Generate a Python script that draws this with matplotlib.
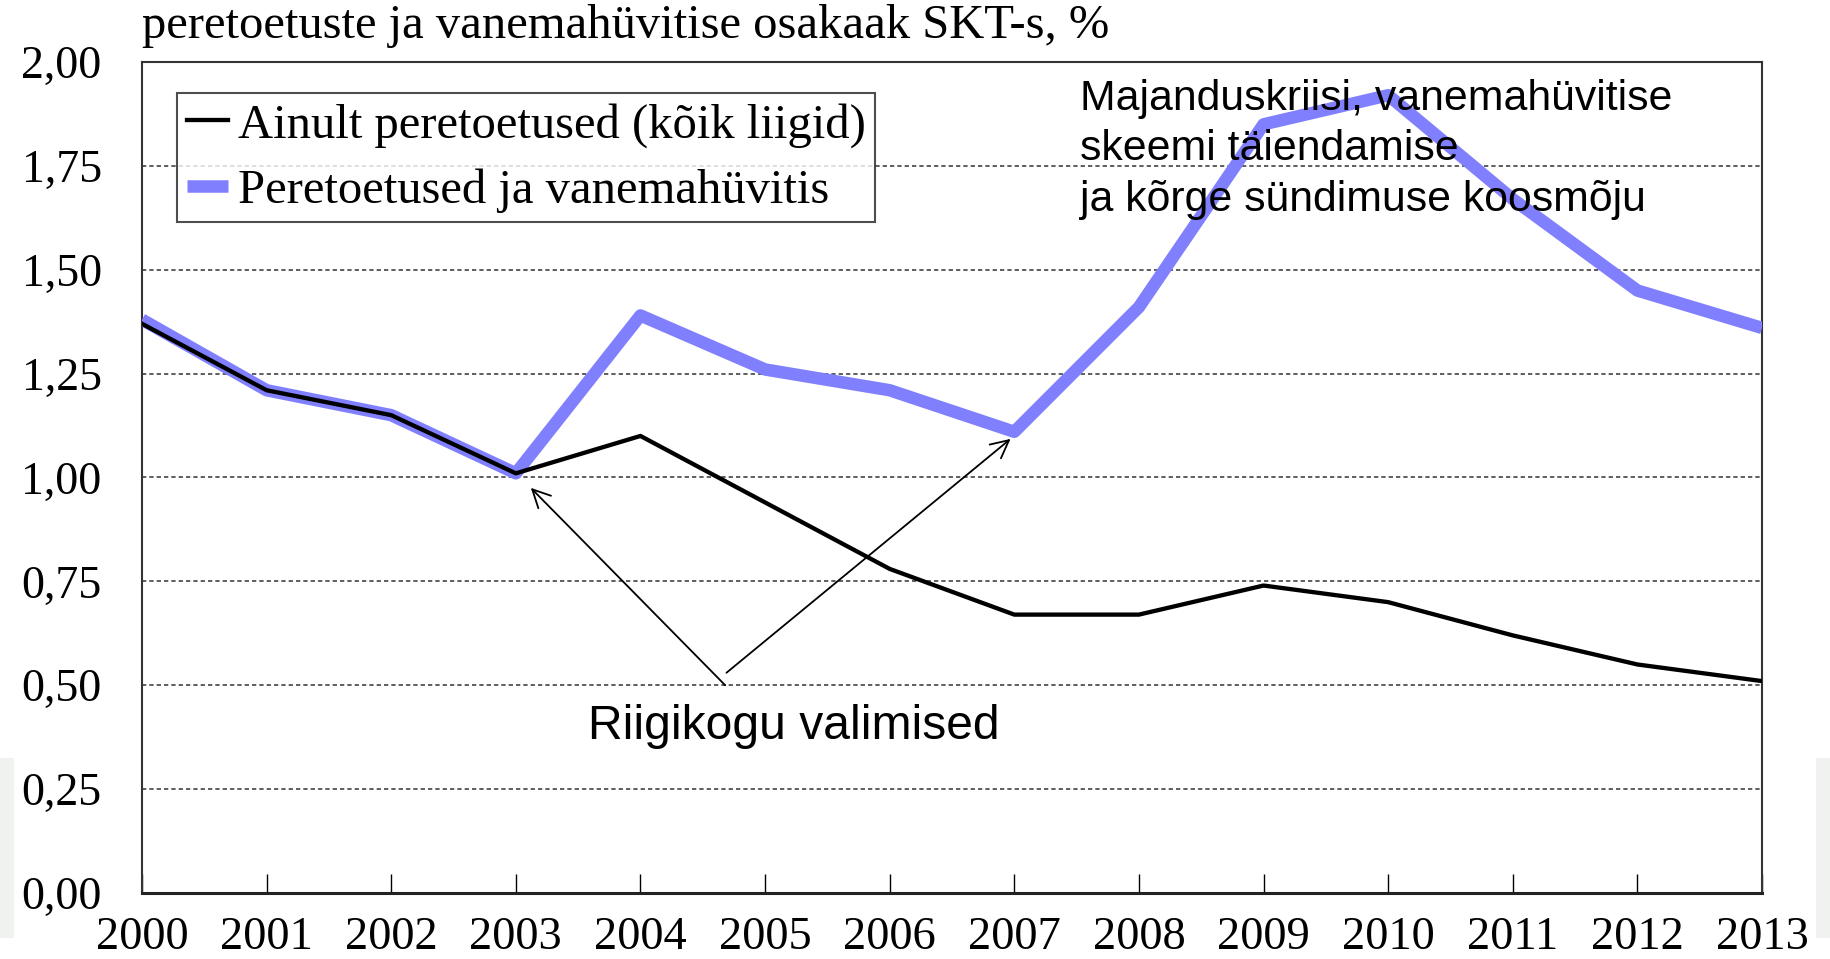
import matplotlib

matplotlib.use("Agg")
import matplotlib.pyplot as plt
from matplotlib.patches import Rectangle
from matplotlib.ticker import FixedLocator

years = list(range(2000, 2014))
only_benefits = [1.37, 1.21, 1.15, 1.01, 1.10, 0.94, 0.78, 0.67, 0.67, 0.74, 0.70, 0.62, 0.55, 0.51]
with_parental = [1.38, 1.21, 1.15, 1.01, 1.39, 1.26, 1.21, 1.11, 1.41, 1.85, 1.92, 1.67, 1.45, 1.36]
y_ticks = [0.0, 0.25, 0.5, 0.75, 1.0, 1.25, 1.5, 1.75, 2.0]
y_tick_labels = ["0,00", "0,25", "0,50", "0,75", "1,00", "1,25", "1,50", "1,75", "2,00"]

serif = "Liberation Serif"
sans = "Liberation Sans"
blue = "#8080FF"

fig = plt.figure(figsize=(18.3, 9.59), dpi=100)
ax = fig.add_axes([142 / 1830, 1 - 893 / 959, 1620 / 1830, 831 / 959])

# faint grey slide edges in the original
for x0 in (0, 1816):
    fig.add_artist(Rectangle((x0 / 1830, 1 - 938 / 959), 14 / 1830, 180 / 959,
                             transform=fig.transFigure, facecolor="#f0f2f0",
                             edgecolor="none", zorder=-5))

ax.plot(years, with_parental, color=blue, lw=9, zorder=3,
        label="Peretoetused ja vanemahüvitis", solid_capstyle="butt")
ax.plot(years, only_benefits, color="black", lw=3.1, zorder=4,
        label="Ainult peretoetused (kõik liigid)")

ax.set_xlim(2000, 2013)
ax.set_ylim(0, 2)
ax.xaxis.set_major_locator(FixedLocator(years))
ax.set_xticklabels([str(y) for y in years], fontfamily=serif, fontsize=33.5)
ax.set_yticks(y_ticks)
ax.set_yticklabels(y_tick_labels, fontfamily=serif, fontsize=33)
ax.tick_params(axis="x", direction="in", length=14, width=1, pad=17)
ax.tick_params(axis="y", length=0, pad=29)

for y in y_ticks[1:-1]:
    ax.axhline(y, color="#333333", lw=1.1, dashes=(2.8, 2.0), zorder=1)

for side in ("left", "top", "right"):
    ax.spines[side].set_color("#333333")
    ax.spines[side].set_linewidth(1.5)
ax.spines["bottom"].set_linewidth(2.2)
ax.spines["bottom"].set_color("#222222")

handles, labels = ax.get_legend_handles_labels()
leg = ax.legend(handles[::-1], labels[::-1], loc="upper left",
                bbox_to_anchor=(0.0216, 0.9627), borderaxespad=0,
                prop={"family": serif, "size": 35}, handlelength=0.85,
                handletextpad=0.2, labelspacing=0.42, borderpad=0.2,
                fancybox=False, frameon=True)
leg.get_frame().set_edgecolor("#222222")
leg.get_frame().set_linewidth(1.5)
leg.set_zorder(5)

ax.text(0, 1.029, "peretoetuste ja vanemahüvitise osakaak SKT-s, %",
        transform=ax.transAxes, ha="left", va="baseline",
        fontfamily=serif, fontsize=35)

ax.text(2007.53, 1.96,
        "Majanduskriisi, vanemahüvitise\nskeemi täiendamise\nja kõrge sündimuse koosmõju",
        ha="left", va="top", fontfamily=sans, fontsize=30.8, linespacing=1.34, zorder=6)

ax.text(2005.23, 0.371, "Riigikogu valimised", ha="center", va="baseline",
        fontfamily=sans, fontsize=34.6, zorder=6)

arrow = dict(arrowstyle="->", lw=1.3, color="black", mutation_scale=32,
             shrinkA=0, shrinkB=0)
ax.annotate("", xy=(2003.12, 0.975), xytext=(2004.68, 0.50), arrowprops=arrow, zorder=6)
ax.annotate("", xy=(2006.97, 1.093), xytext=(2004.69, 0.53), arrowprops=arrow, zorder=6)

fig.savefig("out.png", dpi=100)
